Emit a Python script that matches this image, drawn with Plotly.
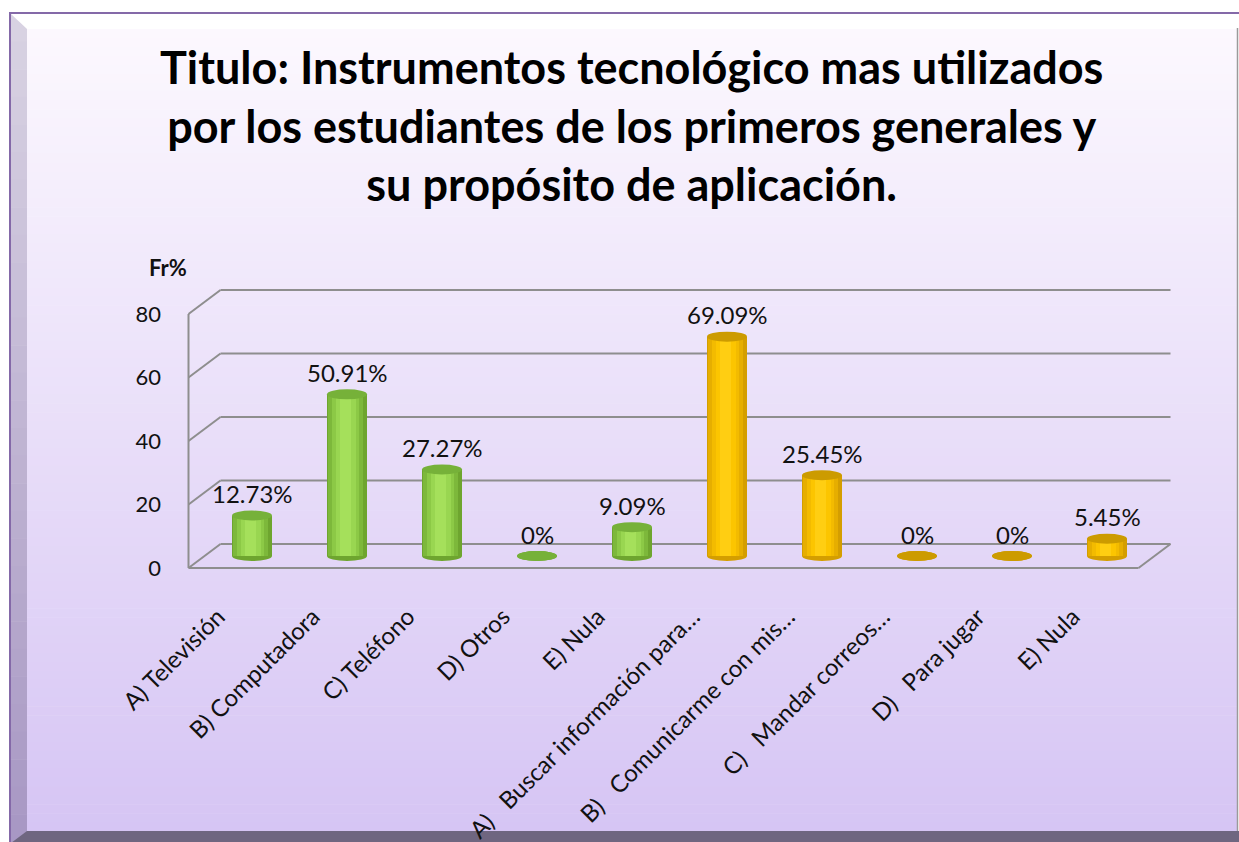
import plotly.graph_objects as go

# ---------------- data ----------------
categories = [
    "A) Televisión", "B) Computadora", "C) Teléfono", "D) Otros", "E) Nula",
    "A)\u00a0\u00a0 Buscar información para…", "B)\u00a0\u00a0 Comunicarme con mis…",
    "C)\u00a0\u00a0 Mandar correos…", "D)\u00a0\u00a0 Para jugar", "E) Nula",
]
values = [12.73, 50.91, 27.27, 0, 9.09, 69.09, 25.45, 0, 0, 5.45]
groups = ["inst", "inst", "inst", "inst", "inst", "prop", "prop", "prop", "prop", "prop"]
y_ticks = [0, 20, 40, 60, 80]
y_tick_labels = ["0", "20", "40", "60", "80"]
title_lines = [
    "Titulo: Instrumentos tecnológico mas utilizados",
    "por los estudiantes de los primeros generales y",
    "su propósito de aplicación.",
]
y_title = "Fr%"

# ---------------- styles ----------------
W, H = 1239, 842
FONT = "Lato"
shade_layers = {  # colors from outer (dark) to inner (light)
    "inst": ["#6ea52f", "#7db83b", "#8cc946", "#99d651", "#a5e05b"],
    "prop": ["#d49e00", "#e6ae00", "#f3bb00", "#fcc500", "#ffce12"],
}
layer_widths = [0.421, 0.36, 0.29, 0.21, 0.12]
cap_color = {"inst": "#76b139", "prop": "#cc9b00"}
grid_color = "#8e8e8e"

# geometry (pixels) of the pseudo-3D frame
CAT0_PX, STEP_PX, BASE_PX = 252, 95, 556
PX_PER_UNIT = 254 / 80
DEPTH_DX, DEPTH_DY = 16, 12
PLOT_L, PLOT_R, PLOT_T, PLOT_B = 176, 1215, 250, 575

xr = [(PLOT_L - CAT0_PX) / STEP_PX, (PLOT_R - CAT0_PX) / STEP_PX]
yr = [(BASE_PX - PLOT_B) / PX_PER_UNIT, (BASE_PX - PLOT_T) / PX_PER_UNIT]
dx = DEPTH_DX / STEP_PX
dy = DEPTH_DY / PX_PER_UNIT
n = len(categories)
x_lo, x_hi = -0.5, n - 0.5
xs = list(range(n))


def px(x):
    return x / W


def py(y):
    return 1 - y / H


def mix(c1, c2, t):
    a = [int(c1[i:i + 2], 16) for i in (1, 3, 5)]
    b = [int(c2[i:i + 2], 16) for i in (1, 3, 5)]
    return "#" + "".join(f"{round(a[k] + (b[k] - a[k]) * t):02x}" for k in range(3))


shapes = []
# outer frame (top bevel white)
shapes.append(dict(type="rect", xref="paper", yref="paper", x0=px(10), x1=px(1250), y0=py(13), y1=py(850),
                   fillcolor="#ffffff", line=dict(color="#8469a8", width=2), layer="below"))
# left bevel gradient
NB = 30
for k in range(NB):
    y0 = 14 + (842 - 14) * k / NB
    y1 = 14 + (842 - 14) * (k + 1) / NB
    shapes.append(dict(type="rect", xref="paper", yref="paper", x0=px(11), x1=px(27), y0=py(y0), y1=py(y1 + 0.5),
                       fillcolor=mix("#d8d2e2", "#a898c4", k / (NB - 1)), line=dict(width=0), layer="below"))
# top-left corner triangle
shapes.append(dict(type="path", xref="paper", yref="paper",
                   path=f"M{px(11)},{py(14)} L{px(27)},{py(29)} L{px(27)},{py(14)} Z",
                   fillcolor="#ffffff", line=dict(width=0), layer="below"))
# inner panel gradient
NS = 90
for k in range(NS):
    y0 = 29 + (831 - 29) * k / NS
    y1 = 29 + (831 - 29) * (k + 1) / NS
    shapes.append(dict(type="rect", xref="paper", yref="paper", x0=px(27), x1=px(1237), y0=py(y0), y1=py(y1 + 0.6),
                       fillcolor=mix("#fcf8fe", "#d6c5f4", k / (NS - 1)), line=dict(width=0), layer="below"))
# right edge line
shapes.append(dict(type="line", xref="paper", yref="paper", x0=px(1237.5), x1=px(1237.5), y0=py(28), y1=py(831),
                   line=dict(color="#9a9a9a", width=1.5), layer="below"))
# bottom bevel
shapes.append(dict(type="path", xref="paper", yref="paper",
                   path=f"M{px(11)},{py(843)} L{px(27)},{py(831)} L{px(1239)},{py(831)} L{px(1239)},{py(843)} Z",
                   fillcolor="#6f6680", line=dict(width=0), layer="below"))

# back wall gridlines, side diagonals
for t in y_ticks:
    shapes.append(dict(type="line", xref="x", yref="y", x0=x_lo + dx, x1=x_hi + dx, y0=t + dy, y1=t + dy,
                       line=dict(color=grid_color, width=2), layer="below"))
    shapes.append(dict(type="line", xref="x", yref="y", x0=x_lo - dx, x1=x_lo + dx, y0=t - dy, y1=t + dy,
                       line=dict(color=grid_color, width=2), layer="below"))
# front vertical axis
shapes.append(dict(type="line", xref="x", yref="y", x0=x_lo - dx, x1=x_lo - dx, y0=-dy, y1=max(y_ticks) - dy,
                   line=dict(color=grid_color, width=2), layer="below"))
# floor front edge and right edge
shapes.append(dict(type="line", xref="x", yref="y", x0=x_lo - dx, x1=x_hi - dx, y0=-dy, y1=-dy,
                   line=dict(color=grid_color, width=2), layer="below"))
shapes.append(dict(type="line", xref="x", yref="y", x0=x_hi - dx, x1=x_hi + dx, y0=-dy, y1=dy,
                   line=dict(color=grid_color, width=2), layer="below"))

# cylinder ellipses
hw = layer_widths[0] / 2
eh = 5 / PX_PER_UNIT
for x, v, g in zip(xs, values, groups):
    shapes.append(dict(type="circle", xref="x", yref="y", x0=x - hw, x1=x + hw, y0=-eh, y1=eh,
                       fillcolor=shade_layers[g][0], line=dict(width=0), layer="below"))
    shapes.append(dict(type="circle", xref="x", yref="y", x0=x - hw, x1=x + hw, y0=v - eh, y1=v + eh,
                       fillcolor=cap_color[g], line=dict(width=0), layer="above"))

fig = go.Figure()
for li, w in enumerate(layer_widths):
    shift = 0 if li == 0 else -0.015
    fig.add_trace(go.Bar(
        x=xs, y=values, width=w, offset=-w / 2 + shift,
        marker=dict(color=[shade_layers[g][li] for g in groups], line=dict(width=0)),
        hoverinfo="skip", showlegend=False,
    ))

annotations = []
for x, v in zip(xs, values):
    annotations.append(dict(x=x, y=v, xref="x", yref="y", text=f"{v:g}%", showarrow=False,
                            yshift=22, font=dict(family=FONT, size=24, color="#111111")))
annotations.append(dict(x=px(168), y=py(268), xref="paper", yref="paper", text=f"<b>{y_title}</b>",
                        showarrow=False, xanchor="center", yanchor="middle",
                        font=dict(family=FONT, size=22, color="#111111")))
annotations.append(dict(x=px(631), y=py(38), xref="paper", yref="paper",
                        text="<b>" + "<br>".join(title_lines) + "</b>", showarrow=False,
                        xanchor="center", yanchor="top", align="center",
                        font=dict(family=FONT, size=45, color="#000000")))

fig.update_layout(
    width=W, height=H,
    margin=dict(l=0, r=0, t=0, b=0, pad=0),
    paper_bgcolor="#ffffff", plot_bgcolor="rgba(0,0,0,0)",
    barmode="overlay", bargap=0,
    xaxis=dict(domain=[px(PLOT_L), px(PLOT_R)], range=xr, showgrid=False, zeroline=False, showline=False,
               tickmode="array", tickvals=xs, ticktext=categories, tickangle=-45, ticks="",
               ticklabelstandoff=22, ticklabelshift=-34, automargin=False,
               tickfont=dict(family=FONT, size=24, color="#111111"), fixedrange=True),
    yaxis=dict(domain=[py(PLOT_B), py(PLOT_T)], range=yr, showgrid=False, zeroline=False, showline=False,
               tickmode="array", tickvals=[t - dy for t in y_ticks], ticktext=y_tick_labels, ticks="",
               ticklabelstandoff=14, automargin=False,
               tickfont=dict(family=FONT, size=22, color="#111111"), fixedrange=True),
    shapes=shapes,
    annotations=annotations,
    showlegend=False,
)

fig.write_html("out.html", config={"displayModeBar": False},
               post_script="document.body.style.margin='0px';document.body.style.overflow='hidden';")
